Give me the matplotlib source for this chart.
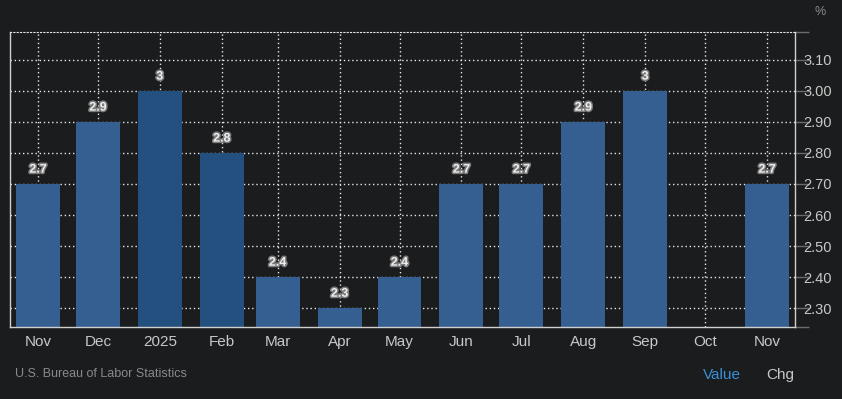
import matplotlib
matplotlib.use("Agg")
import matplotlib.pyplot as plt
import matplotlib.patheffects as pe
import matplotlib.dates as mdates
import numpy as np
import datetime as dt

plt.rcParams['font.family'] = ['Liberation Sans', 'DejaVu Sans']

# monthly CPI YoY values, Oct 2025 missing
months = [dt.date(2024, 11, 1), dt.date(2024, 12, 1), dt.date(2025, 1, 1), dt.date(2025, 2, 1),
          dt.date(2025, 3, 1), dt.date(2025, 4, 1), dt.date(2025, 5, 1), dt.date(2025, 6, 1),
          dt.date(2025, 7, 1), dt.date(2025, 8, 1), dt.date(2025, 9, 1), dt.date(2025, 10, 1),
          dt.date(2025, 11, 1)]
values = [2.7, 2.9, 3.0, 2.8, 2.4, 2.3, 2.4, 2.7, 2.7, 2.9, 3.0, np.nan, 2.7]
labels = ["2.7", "2.9", "3", "2.8", "2.4", "2.3", "2.4", "2.7", "2.7", "2.9", "3", "", "2.7"]
month_names = ["Nov", "Dec", "2025", "Feb", "Mar", "Apr", "May", "Jun", "Jul", "Aug", "Sep", "Oct", "Nov"]
dark = [False, False, True, True, False, False, False, False, False, False, False, False, False]
yticks = [2.3, 2.4, 2.5, 2.6, 2.7, 2.8, 2.9, 3.0, 3.1]

bg = "#1b1c1e"
fig = plt.figure(figsize=(8.42, 3.99), dpi=100, facecolor=bg)
ax = fig.add_axes([10 / 842, 72 / 399, 785 / 842, 295 / 399], facecolor=bg)

x = mdates.date2num(months)
colors = ["#245080" if d else "#365f91" for d in dark]
ax.bar(x, values, width=22, color=colors, zorder=2)

for xi, v, lab in zip(x, values, labels):
    if lab:
        ax.annotate(lab, (xi, v), xytext=(0, 6), textcoords="offset points",
                    ha="center", va="bottom", fontsize=9, fontweight="bold", color="#eeeeee",
                    path_effects=[pe.withStroke(linewidth=2.2, foreground="#7a7a7a")], zorder=3)

ax.set_xlim(mdates.date2num(dt.date(2024, 10, 18)), mdates.date2num(dt.date(2025, 11, 15)))
ax.set_ylim(2.239, 3.19)

ax.set_xticks(x)
ax.set_xticklabels(month_names)
ax.yaxis.tick_right()
ax.set_yticks(yticks)
ax.set_yticklabels(["%.2f" % t for t in yticks])
ax.set_yticks([2.239, 3.19], minor=True)

ax.tick_params(axis="x", length=0, pad=6, labelsize=11, labelcolor="#c8c8c8")
ax.tick_params(axis="y", which="both", length=10, width=1, color="#6a6a6a", pad=-4,
               labelsize=10.5, labelcolor="#c8c8c8")

ax.grid(True, color="#e8e8e8", linestyle=(0, (1, 2)), linewidth=1, zorder=1)
ax.set_axisbelow(True)

for s in ["left", "bottom", "right"]:
    ax.spines[s].set_color("#d0d0d0")
    ax.spines[s].set_linewidth(1)
ax.spines["top"].set_color("#e8e8e8")
ax.spines["top"].set_linestyle((0, (1, 2)))

fig.text(820 / 842, 1 - 12 / 399, "%", ha="center", va="center", fontsize=9, color="#8a8a8a")
fig.text(15 / 842, 1 - 374 / 399, "U.S. Bureau of Labor Statistics", ha="left", va="center",
         fontsize=9, color="#8a8a8a")
fig.text(722 / 842, 1 - 375 / 399, "Value", ha="center", va="center", fontsize=11, color="#3a8fd6")
fig.text(780 / 842, 1 - 375 / 399, "Chg", ha="center", va="center", fontsize=11, color="#c8c8c8")

fig.savefig("out.png", dpi=100, facecolor=bg)
